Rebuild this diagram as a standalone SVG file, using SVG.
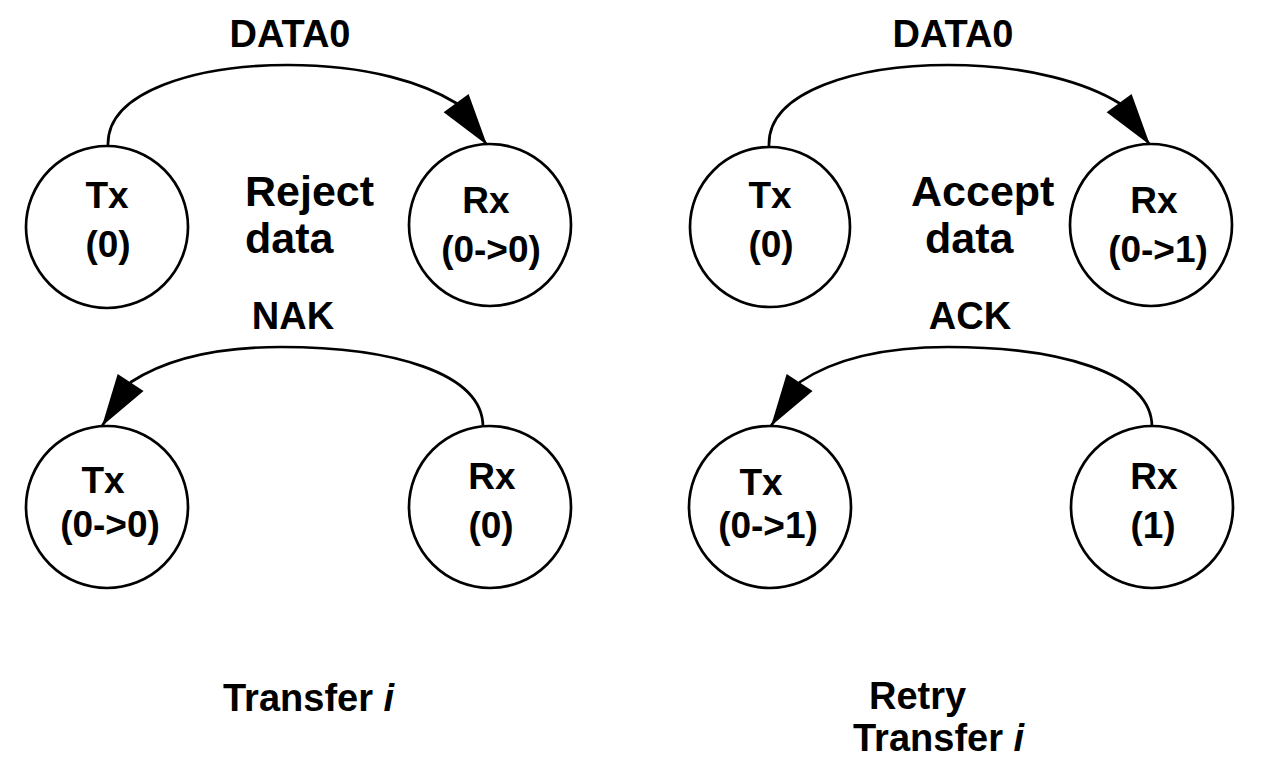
<svg xmlns="http://www.w3.org/2000/svg" width="1261" height="781" viewBox="0 0 1261 781">
<style>
.node{fill:#fff;stroke:#000;stroke-width:2.7}
.edge{fill:none;stroke:#000;stroke-width:2.7}
text{font-family:"Liberation Sans",Arial,sans-serif;font-weight:bold;fill:#000}
.nl{font-size:37px;text-anchor:middle}
.el{font-size:38px;text-anchor:middle}
.big{font-size:43px}
.cap{font-size:38px}
</style>
<defs>
<marker id="arr" markerUnits="userSpaceOnUse" viewBox="-53 -17 55 34" refX="0" refY="0" markerWidth="55" markerHeight="34" orient="auto">
<path d="M0,0 L-52,-15.5 L-52,15.5 Z" fill="#000"/>
</marker>
</defs>
<rect width="1261" height="781" fill="#fff"/>
<g id="connectors">
<path class="edge" d="M108,146 C106,90 200,65 288,65 C370,65 425,84 456,103 L487,145" marker-end="url(#arr)"/>
<path class="edge" d="M483,427 C483,372 390,347 281,347 C215,347 165,360 131,382 L102,426" marker-end="url(#arr)"/>
<path class="edge" d="M769,146 C767,90 860,65 948,65 C1030,65 1088,84 1119,103 L1150,145" marker-end="url(#arr)"/>
<path class="edge" d="M1152,427 C1152,372 1057,347 948,347 C880,347 833,360 800,382 L771,426" marker-end="url(#arr)"/>
</g>
<g id="tl-tx"><circle class="node" cx="107" cy="227" r="81"/><text class="nl" x="107" y="208">Tx</text><text class="nl" x="108" y="257">(0)</text></g>
<g id="tl-rx"><circle class="node" cx="490" cy="225" r="81"/><text class="nl" x="486" y="213">Rx</text><text class="nl" x="491" y="262">(0-&gt;0)</text></g>
<g id="bl-tx"><circle class="node" cx="107" cy="507" r="81"/><text class="nl" x="103" y="493">Tx</text><text class="nl" x="110" y="537">(0-&gt;0)</text></g>
<g id="bl-rx"><circle class="node" cx="490" cy="507" r="81"/><text class="nl" x="492" y="489">Rx</text><text class="nl" x="491" y="538">(0)</text></g>
<g id="tr-tx"><circle class="node" cx="770" cy="227" r="80"/><text class="nl" x="770" y="208">Tx</text><text class="nl" x="771" y="257">(0)</text></g>
<g id="tr-rx"><circle class="node" cx="1151" cy="225" r="81"/><text class="nl" x="1154" y="213">Rx</text><text class="nl" x="1158" y="262">(0-&gt;1)</text></g>
<g id="br-tx"><circle class="node" cx="770" cy="507" r="81"/><text class="nl" x="761" y="495">Tx</text><text class="nl" x="768" y="538">(0-&gt;1)</text></g>
<g id="br-rx"><circle class="node" cx="1152" cy="507" r="81"/><text class="nl" x="1154" y="489">Rx</text><text class="nl" x="1153" y="538">(1)</text></g>
<g id="labels">
<text class="el" x="290" y="47">DATA0</text>
<text class="el" x="953" y="47">DATA0</text>
<text class="el" x="293" y="329">NAK</text>
<text class="el" x="970" y="329">ACK</text>
<text class="big" x="245" y="206">Reject</text>
<text class="big" x="245" y="253">data</text>
<text class="big" x="911" y="206">Accept</text>
<text class="big" x="925" y="253">data</text>
<text class="cap" x="223" y="711">Transfer <tspan font-style="italic">i</tspan></text>
<text class="cap" x="869" y="709">Retry</text>
<text class="cap" x="853" y="751">Transfer <tspan font-style="italic">i</tspan></text>
</g>
</svg>
